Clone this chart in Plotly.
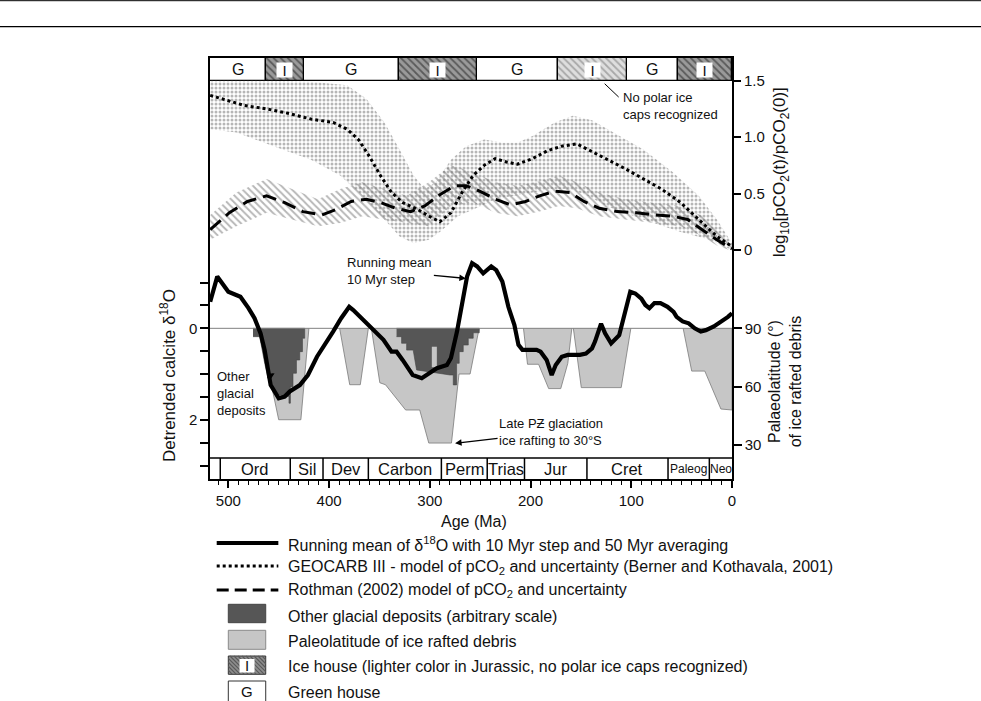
import plotly.graph_objects as go

# ---------------- data ----------------
# running mean of detrended calcite d18O (per mil, positive down)
d18_age = [518, 511, 500, 492, 488, 480, 474, 468, 464, 458, 450, 444, 439, 429, 421, 412, 404, 396, 388, 380,
           376, 364, 354, 346, 338, 333, 327, 317, 308, 300, 293, 283, 279, 273, 267, 263, 258, 253, 247, 239,
           234, 228, 222, 216, 212, 208, 194, 190, 184, 179, 175, 169, 163, 151, 145, 139, 136, 130, 126, 120,
           112, 106, 101, 96, 90, 86, 82, 77, 71, 64, 58, 55, 49, 43, 37, 31, 26, 18, 10, 4, 0]
d18_val = [-0.58, -1.13, -0.80, -0.73, -0.69, -0.44, -0.22, 0.11, 0.47, 1.24, 1.53, 1.49, 1.38, 1.24, 1.02, 0.62, 0.36, 0.07, -0.22, -0.47,
           -0.40, -0.15, 0.07, 0.25, 0.51, 0.51, 0.69, 1.02, 1.09, 0.98, 0.87, 0.80, 0.65, 0.07, -0.73, -1.13, -1.42, -1.35, -1.20, -1.35,
           -1.27, -1.02, -0.47, -0.07, 0.36, 0.47, 0.47, 0.51, 0.69, 1.02, 0.80, 0.62, 0.58, 0.58, 0.55, 0.44, 0.29, -0.10, 0.11, 0.33,
           0.15, -0.36, -0.80, -0.76, -0.65, -0.51, -0.44, -0.55, -0.55, -0.47, -0.36, -0.25, -0.15, -0.11, 0.0, 0.07, 0.04, -0.04, -0.15, -0.25, -0.33]

# GEOCARB III log10 pCO2 ratio and uncertainty envelope
geo_age = [518, 506, 484, 462, 440, 418, 396, 382, 371, 360, 349, 338, 327, 312, 301, 290, 279, 268, 257, 246,
           235, 224, 213, 198, 183, 169, 154, 143, 125, 106, 88, 70, 51, 33, 15, 0]
geo_val = [1.37, 1.34, 1.28, 1.25, 1.21, 1.16, 1.13, 1.07, 0.98, 0.83, 0.66, 0.51, 0.42, 0.36, 0.30, 0.25, 0.33, 0.51, 0.66, 0.75,
           0.81, 0.78, 0.76, 0.81, 0.88, 0.92, 0.94, 0.89, 0.81, 0.72, 0.63, 0.54, 0.42, 0.27, 0.12, 0.03]
geo_hi_age = [518, 455, 418, 382, 363, 345, 330, 316, 305, 294, 279, 264, 246, 227, 213, 198, 176, 158, 139, 117, 88, 59, 33, 15, 0]
geo_hi = [1.50, 1.50, 1.49, 1.46, 1.34, 1.13, 0.89, 0.66, 0.54, 0.60, 0.80, 0.92, 0.98, 0.95, 0.95, 1.01, 1.13, 1.19, 1.15, 1.04,
          0.89, 0.69, 0.48, 0.27, 0.06]
geo_lo_age = [518, 492, 455, 418, 389, 367, 345, 330, 316, 301, 290, 272, 249, 235, 216, 198, 180, 161, 143, 125, 88, 51, 22, 0]
geo_lo = [1.07, 1.04, 0.92, 0.80, 0.66, 0.48, 0.27, 0.12, 0.06, 0.09, 0.16, 0.30, 0.39, 0.45, 0.48, 0.51, 0.54, 0.54, 0.48, 0.39,
          0.27, 0.16, 0.09, 0.0]

# Rothman (2002) model and uncertainty envelope
roth_age = [518, 499, 481, 462, 444, 426, 407, 393, 378, 363, 349, 334, 319, 305, 290, 275, 264, 250, 235, 220,
            205, 191, 176, 161, 147, 132, 114, 95, 77, 59, 44, 29, 15, 0]
roth_val = [0.18, 0.33, 0.43, 0.48, 0.42, 0.34, 0.31, 0.36, 0.43, 0.45, 0.42, 0.37, 0.34, 0.39, 0.49, 0.57, 0.57, 0.52, 0.45, 0.40,
            0.43, 0.48, 0.52, 0.51, 0.43, 0.37, 0.34, 0.33, 0.31, 0.30, 0.27, 0.18, 0.09, 0.01]
roth_band_age = [518, 492, 462, 437, 411, 389, 367, 345, 323, 301, 279, 257, 235, 213, 191, 172, 154, 132, 106, 81, 51, 29, 15, 0]
roth_hi = [0.31, 0.51, 0.63, 0.54, 0.45, 0.54, 0.60, 0.54, 0.48, 0.60, 0.75, 0.69, 0.60, 0.57, 0.61, 0.66, 0.60, 0.51, 0.45, 0.42,
           0.39, 0.30, 0.18, 0.04]
roth_lo = [0.09, 0.21, 0.33, 0.27, 0.21, 0.24, 0.30, 0.27, 0.24, 0.21, 0.39, 0.42, 0.33, 0.30, 0.34, 0.39, 0.37, 0.30, 0.27, 0.24,
           0.21, 0.12, 0.04, -0.01]

# paleolatitude of ice rafted debris (degrees)
ird_ord_age = [469, 450, 428, 420]
ird_ord_lat = [90, 43, 43, 90]
ird_dev_age = [389.5, 379.5, 369, 361]
ird_dev_lat = [90, 61, 61, 90]
ird_pz_age = [358, 349.6, 344, 324, 310, 301, 278.5, 271, 260, 251]
ird_pz_lat = [90, 62, 61, 48, 48, 31, 31, 66.5, 66.5, 90]
ird_jur_age = [207, 203, 192, 182, 170, 163, 159]
ird_jur_lat = [90, 71.5, 71.5, 59, 59, 72, 90]
ird_cret_age = [157.5, 149.6, 110, 100.4]
ird_cret_lat = [90, 59.5, 59.5, 90]
ird_cen_age = [48.5, 40, 27, 11, 0, 0]
ird_cen_lat = [90, 68, 68, 48.5, 48, 90]

# other glacial deposits (arbitrary scale, drawn on the latitude scale)
glac_ord_age = [475.5, 424.2, 424.2, 426.4, 426.4, 429.1, 429.1, 432.4, 432.4, 435.8, 435.8, 438.4, 438.4, 439.8, 439.8,
                450.7, 455.6, 460.6, 463.9, 467.2, 468.9, 475.5]
glac_ord_lat = [90, 90, 84.9, 84.9, 78, 78, 73.7, 73.7, 66.9, 66.9, 60, 60, 51.5, 51.5, 55,
                55.7, 58.3, 64.3, 72.0, 80.5, 85.7, 85.7]
glac_pz_age = [333, 250.9, 250.9, 256.9, 256.9, 261.8, 261.8, 266.8, 266.8, 270.8, 270.8, 273.4, 273.4, 276.7, 276.7,
               280, 313.1, 314.8, 316.5, 323, 323, 328, 328, 333]
glac_pz_lat = [90, 90, 87.7, 87.7, 84.9, 84.9, 81.4, 81.4, 78, 78, 72, 72, 60.9, 60.9, 66,
               66, 68.6, 73.7, 78.8, 78.8, 82.3, 82.3, 85.7, 85.7]
gap_age = [298, 293, 293, 298]
gap_lat = [80.5, 80.5, 70, 70]

# climate modes (G = green house, I = ice house)
green_start = [518.2, 425, 253, 104]
green_end = [463, 331, 173, 54]
ice_start = [463, 331, 54]
ice_end = [425, 253, 0]
ice_light_start = [173]
ice_light_end = [104]

# geological periods
period_bounds = [518.2, 508, 438.5, 406, 361, 288.5, 243, 206, 144, 63.5, 22.5, 0]
period_names = ["", "Ord", "Sil", "Dev", "Carbon", "Perm", "Trias", "Jur", "Cret", "Paleog", "Neo"]

# axis ticks
d18_ticks = [0, 2]
d18_minor = [-1, -0.5, 0.5, 1, 1.5, 2.5, 3]
co2_ticks = [0, 0.5, 1.0, 1.5]
co2_labels = ["0", "0.5", "1.0", "1.5"]
lat_ticks = [30, 60, 90]

# ---------------- layout constants ----------------
W, H = 981, 701
L, R, T, B = 210, 731.7, 58, 479
X_RANGE = [518.2, 0]
D18_RANGE = [3.290, -5.902]
CO2_RANGE = [-2.029, 1.701]
LAT_RANGE = [12.52, 228.97]
STRIP_TOP = 2.832
FONT = "Liberation Sans, Arial, Helvetica, sans-serif"
INK = "#111111"
LIGHT = "#c6c6c6"
DARK = "#565656"


def px(x):
    return (x - L) / (R - L)


def py(y):
    return (B - y) / (B - T)


fig = go.Figure()

# IRD paleolatitude polygons (base axis: latitude)
for a, la in [(ird_ord_age, ird_ord_lat), (ird_dev_age, ird_dev_lat), (ird_pz_age, ird_pz_lat),
              (ird_jur_age, ird_jur_lat), (ird_cret_age, ird_cret_lat), (ird_cen_age, ird_cen_lat)]:
    fig.add_trace(go.Scatter(x=a, y=la, fill="toself", fillcolor=LIGHT, mode="lines",
                             line=dict(color="#7a7a7a", width=0.8), xaxis="x", yaxis="y",
                             hoverinfo="skip", showlegend=False))
for a, la in [(glac_ord_age, glac_ord_lat), (glac_pz_age, glac_pz_lat)]:
    fig.add_trace(go.Scatter(x=a, y=la, fill="toself", fillcolor=DARK, mode="lines",
                             line=dict(color="#444444", width=0.6), xaxis="x", yaxis="y",
                             hoverinfo="skip", showlegend=False))
fig.add_trace(go.Scatter(x=gap_age, y=gap_lat, fill="toself", fillcolor=LIGHT, mode="lines",
                         line=dict(color=LIGHT, width=0.1), xaxis="x", yaxis="y",
                         hoverinfo="skip", showlegend=False))

# pCO2 bands and curves (axis y2)
fig.add_trace(go.Scatter(x=geo_hi_age + geo_lo_age[::-1], y=geo_hi + geo_lo[::-1], fill="toself",
                         mode="lines", line=dict(width=0, color="rgba(0,0,0,0)"),
                         fillcolor="rgba(0,0,0,0)",
                         fillpattern=dict(shape=".", fgcolor="#6e6e6e", bgcolor="rgba(255,255,255,0)",
                                          size=4, solidity=0.45),
                         xaxis="x", yaxis="y2", hoverinfo="skip", showlegend=False))
fig.add_trace(go.Scatter(x=roth_band_age + roth_band_age[::-1], y=roth_hi + roth_lo[::-1], fill="toself",
                         mode="lines", line=dict(width=0, color="rgba(0,0,0,0)"),
                         fillcolor="rgba(0,0,0,0)",
                         fillpattern=dict(shape="\\", fgcolor="#6e6e6e", bgcolor="rgba(255,255,255,0)",
                                          size=5, solidity=0.38),
                         xaxis="x", yaxis="y2", hoverinfo="skip", showlegend=False))
fig.add_trace(go.Scatter(x=geo_age, y=geo_val, mode="lines", line=dict(color="black", width=3, dash="dot"),
                         xaxis="x", yaxis="y2", showlegend=False))
fig.add_trace(go.Scatter(x=roth_age, y=roth_val, mode="lines", line=dict(color="black", width=3, dash="14px,7px"),
                         xaxis="x", yaxis="y2", showlegend=False))

# climate mode bar (axis y2, above 1.5)
bar_h = CO2_RANGE[1] - 1.5
fig.add_trace(go.Bar(x=[(s + e) / 2 for s, e in zip(green_start, green_end)],
                     width=[s - e for s, e in zip(green_start, green_end)],
                     y=[bar_h] * len(green_start), base=[1.5] * len(green_start),
                     marker=dict(color="white", line=dict(color="black", width=1.3)),
                     xaxis="x", yaxis="y2", hoverinfo="skip", showlegend=False))
fig.add_trace(go.Bar(x=[(s + e) / 2 for s, e in zip(ice_start, ice_end)],
                     width=[s - e for s, e in zip(ice_start, ice_end)],
                     y=[bar_h] * len(ice_start), base=[1.5] * len(ice_start),
                     marker=dict(color="#8c8c8c", line=dict(color="black", width=1.3),
                                 pattern=dict(shape="\\", fgcolor="#5a5a5a", bgcolor="#9a9a9a",
                                              size=5, solidity=0.35, fillmode="replace")),
                     xaxis="x", yaxis="y2", hoverinfo="skip", showlegend=False))
fig.add_trace(go.Bar(x=[(s + e) / 2 for s, e in zip(ice_light_start, ice_light_end)],
                     width=[s - e for s, e in zip(ice_light_start, ice_light_end)],
                     y=[bar_h] * len(ice_light_start), base=[1.5] * len(ice_light_start),
                     marker=dict(color="#d8d8d8", line=dict(color="black", width=1.3),
                                 pattern=dict(shape="\\", fgcolor="#a8a8a8", bgcolor="#dedede",
                                              size=5, solidity=0.35, fillmode="replace")),
                     xaxis="x", yaxis="y2", hoverinfo="skip", showlegend=False))

# d18O zero line and running mean (axis y3, on top)
fig.add_trace(go.Scatter(x=[X_RANGE[0], X_RANGE[1]], y=[0, 0], mode="lines",
                         line=dict(color="#808080", width=1), xaxis="x", yaxis="y3",
                         hoverinfo="skip", showlegend=False))
fig.add_trace(go.Scatter(x=d18_age, y=d18_val, mode="lines", line=dict(color="black", width=4.2),
                         xaxis="x", yaxis="y3", showlegend=False))

shapes = []
annotations = []


def ann(**kw):
    kw.setdefault("showarrow", False)
    kw.setdefault("xanchor", "center")
    kw.setdefault("yanchor", "middle")
    annotations.append(kw)


# period strip
shapes.append(dict(type="line", xref="x", yref="y3", x0=X_RANGE[0], x1=X_RANGE[1], y0=STRIP_TOP, y1=STRIP_TOP,
                   line=dict(color="black", width=1.5), layer="above"))
for b in period_bounds[1:-1]:
    shapes.append(dict(type="line", xref="x", yref="y3", x0=b, x1=b, y0=STRIP_TOP, y1=D18_RANGE[0],
                       line=dict(color="black", width=1.5), layer="above"))
for i, name in enumerate(period_names):
    if not name:
        continue
    mid = (period_bounds[i] + period_bounds[i + 1]) / 2
    small = name in ("Paleog", "Neo")
    ann(x=mid, y=(STRIP_TOP + D18_RANGE[0]) / 2, xref="x", yref="y3", text=name,
        font=dict(size=12 if small else 16.5, color=INK, family=FONT))

# climate mode labels
for s, e in zip(green_start, green_end):
    ann(x=(s + e) / 2, y=1.5 + bar_h / 2, xref="x", yref="y2", text="G",
        font=dict(size=16, color=INK, family=FONT))
for s, e in zip(ice_start + ice_light_start, ice_end + ice_light_end):
    ann(x=(s + e) / 2, y=1.5 + bar_h / 2 - 0.01, xref="x", yref="y2", text="I",
        bgcolor="white", width=15, height=14, borderpad=0,
        font=dict(size=15, color=INK, family=FONT))

# in-plot notes
note_font = dict(size=13, color=INK, family=FONT)
ann(x=110, y=1.28, xref="x", yref="y2", text="No polar ice<br>caps recognized",
    xanchor="left", align="left", font=note_font)
shapes.append(dict(type="line", xref="x", yref="y2", x0=126.4, y0=1.473, x1=112.5, y1=1.355,
                   line=dict(color="black", width=1)))
arrow = dict(showarrow=True, arrowhead=2, arrowsize=1, arrowwidth=1.3, arrowcolor="black", standoff=0,
             align="left", font=note_font)
ann(x=264.2, y=-1.09, xref="x", yref="y3", text="Running mean<br>10 Myr step", ax=-76, ay=-7, **arrow)
ann(x=454.1, y=0.98, xref="x", yref="y3", text="Other<br>glacial<br>deposits", ax=-33, ay=20, **arrow)
ann(x=274.9, y=2.51, xref="x", yref="y3", text="Late PƵ glaciation<br>ice rafting to 30°S", ax=96, ay=-11, **arrow)

# axis titles
title_font = dict(size=17, color=INK, family=FONT)
ann(x=px(168), y=py(375), xref="paper", yref="paper", text="Detrended calcite δ<sup>18</sup>O",
    textangle=-90, font=title_font)
ann(x=px(781), y=py(172), xref="paper", yref="paper",
    text="log<sub>10</sub>[pCO<sub>2</sub>(t)/pCO<sub>2</sub>(0)]", textangle=-90, font=title_font)
ann(x=px(785), y=py(381), xref="paper", yref="paper",
    text="Palaeolatitude (°)<br>of ice rafted debris", textangle=-90,
    font=dict(size=16, color=INK, family=FONT))
ann(x=px(474), y=py(521), xref="paper", yref="paper", text="Age (Ma)", font=dict(size=16, color=INK, family=FONT))

# page rules at top
for yy, lw in [(0.7, 1.0), (26.7, 1.3)]:
    shapes.append(dict(type="line", xref="paper", yref="paper", x0=px(0), x1=px(W), y0=py(yy), y1=py(yy),
                       line=dict(color="black", width=lw)))

# custom legend
leg_font = dict(size=16, color=INK, family=FONT)
lx0, lx1, tx = 216.7, 278.3, 286
for yy, dash, lw in [(543, "solid", 4.2), (566, "dot", 3), (590, "12px,6px", 3)]:
    shapes.append(dict(type="line", xref="paper", yref="paper", x0=px(lx0), x1=px(lx1), y0=py(yy), y1=py(yy),
                       line=dict(color="black", width=lw, dash=dash)))
bx0, bx1 = 228.3, 265.7
shapes.append(dict(type="rect", xref="paper", yref="paper", x0=px(bx0), x1=px(bx1), y0=py(622.7), y1=py(604.3),
                   fillcolor=DARK, line=dict(color="#444444", width=1)))
shapes.append(dict(type="rect", xref="paper", yref="paper", x0=px(bx0), x1=px(bx1), y0=py(649.3), y1=py(630.3),
                   fillcolor=LIGHT, line=dict(color="#8a8a8a", width=1)))
shapes.append(dict(type="rect", xref="paper", yref="paper", x0=px(bx0), x1=px(bx1), y0=py(674.3), y1=py(656),
                   fillcolor="#8e8e8e", line=dict(color="#333333", width=1)))
# hatch lines for legend ice-house swatch
hy0, hy1 = 656, 674.3
segs = []
c = bx0 - hy1
while c < bx1 - hy0:
    xa = max(bx0, hy0 + c)
    xb = min(bx1, hy1 + c)
    if xb > xa:
        segs.append("M %.5f,%.5f L %.5f,%.5f" % (px(xa), py(xa - c), px(xb), py(xb - c)))
    c += 4
shapes.append(dict(type="path", xref="paper", yref="paper", path=" ".join(segs),
                   line=dict(color="#5a5a5a", width=1.2)))
shapes.append(dict(type="rect", xref="paper", yref="paper", x0=px(239.5), x1=px(254.5), y0=py(672.5), y1=py(659),
                   fillcolor="white", line=dict(width=0)))
ann(x=px(247), y=py(665.5), xref="paper", yref="paper", text="I", font=dict(size=15, color=INK, family=FONT))
shapes.append(dict(type="rect", xref="paper", yref="paper", x0=px(bx0), x1=px(bx1), y0=py(703), y1=py(681),
                   fillcolor="white", line=dict(color="#333333", width=1)))
ann(x=px(247), y=py(691.5), xref="paper", yref="paper", text="G", font=dict(size=15, color=INK, family=FONT))
legend_texts = [
    (544, "Running mean of δ<sup>18</sup>O with 10 Myr step and 50 Myr averaging"),
    (567, "GEOCARB III - model of pCO<sub>2</sub> and uncertainty (Berner and Kothavala, 2001)"),
    (590, "Rothman (2002) model of pCO<sub>2</sub> and uncertainty"),
    (616, "Other glacial deposits (arbitrary scale)"),
    (641, "Paleolatitude of ice rafted debris"),
    (666, "Ice house (lighter color in Jurassic, no polar ice caps recognized)"),
    (692, "Green house"),
]
for yy, txt in legend_texts:
    ann(x=px(tx), y=py(yy), xref="paper", yref="paper", text=txt, xanchor="left", font=leg_font)

tick_font = dict(size=15, color=INK, family=FONT)
fig.update_layout(
    width=W, height=H, autosize=False,
    margin=dict(l=L, r=W - R, t=T, b=H - B, pad=0),
    paper_bgcolor="white", plot_bgcolor="white",
    barmode="overlay", bargap=0,
    font=dict(family=FONT, color=INK),
    showlegend=False,
    xaxis=dict(range=X_RANGE, showline=True, linecolor="black", linewidth=1.5, mirror=True,
               ticks="outside", ticklen=7, tickwidth=1.5, tickcolor="black",
               tickmode="linear", tick0=0, dtick=100, tickfont=tick_font,
               minor=dict(tickmode="linear", tick0=0, dtick=10, ticks="outside", ticklen=4.5,
                          tickwidth=1.2, tickcolor="black"),
               showgrid=False, zeroline=False),
    yaxis=dict(range=LAT_RANGE, side="right", anchor="x", showline=True, linecolor="black", linewidth=1.5,
               tickmode="array", tickvals=lat_ticks, ticks="outside", ticklen=8, tickwidth=1.5,
               tickcolor="black", tickfont=tick_font, showgrid=False, zeroline=False),
    yaxis2=dict(range=CO2_RANGE, side="right", anchor="x", overlaying="y", showline=False,
                tickmode="array", tickvals=co2_ticks, ticktext=co2_labels,
                ticks="outside", ticklen=8, tickwidth=1.5, tickcolor="black", tickfont=tick_font,
                showgrid=False, zeroline=False),
    yaxis3=dict(range=D18_RANGE, side="left", anchor="x", overlaying="y", showline=True, linecolor="black",
                linewidth=1.5, tickmode="array", tickvals=d18_ticks,
                ticks="outside", ticklen=8, tickwidth=1.5, tickcolor="black", tickfont=tick_font,
                minor=dict(tickmode="array", tickvals=d18_minor, ticks="outside", ticklen=8, tickwidth=1.5,
                           tickcolor="black"),
                showgrid=False, zeroline=False),
    shapes=shapes,
    annotations=annotations,
)

fig.write_html("out.html", config={"displayModeBar": False},
               post_script="document.body.style.margin='0px';")
